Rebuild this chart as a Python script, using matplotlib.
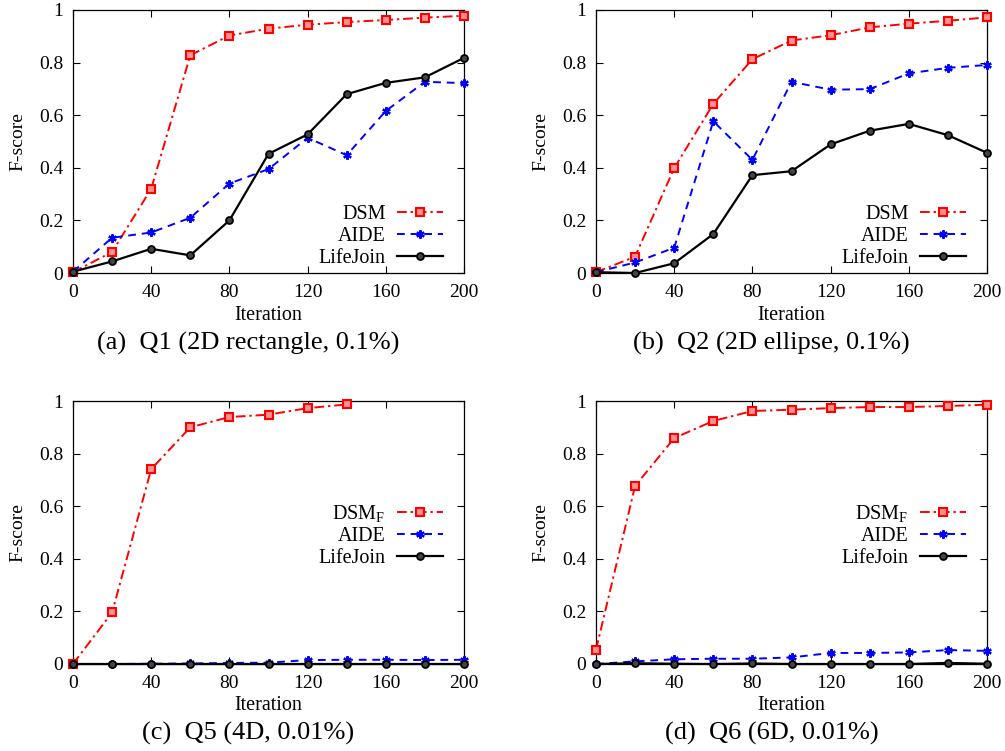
import matplotlib
matplotlib.use("Agg")
import matplotlib.pyplot as plt
from matplotlib.ticker import FuncFormatter

plt.rcParams['font.family'] = ['Liberation Serif', 'DejaVu Serif']
plt.rcParams['mathtext.fontset'] = 'custom'
plt.rcParams['mathtext.rm'] = 'Liberation Serif'
plt.rcParams['mathtext.it'] = 'Liberation Serif:italic'

iterations = [0, 20, 40, 60, 80, 100, 120, 140, 160, 180, 200]

# Panel (a) Q1
q1_dsm = [0.003, 0.08, 0.32, 0.828, 0.903, 0.929, 0.944, 0.954, 0.962, 0.971, 0.978]
q1_aide = [0.005, 0.134, 0.154, 0.21, 0.34, 0.395, 0.514, 0.448, 0.616, 0.727, 0.722]
q1_life = [0.005, 0.044, 0.092, 0.067, 0.2, 0.453, 0.527, 0.68, 0.723, 0.744, 0.818]

# Panel (b) Q2
q2_dsm = [0.003, 0.062, 0.399, 0.643, 0.813, 0.884, 0.904, 0.934, 0.948, 0.959, 0.972]
q2_aide = [0.003, 0.04, 0.096, 0.577, 0.43, 0.727, 0.697, 0.699, 0.759, 0.78, 0.791]
q2_life = [0.003, 0.0, 0.037, 0.148, 0.372, 0.387, 0.489, 0.541, 0.567, 0.524, 0.457]

# Panel (c) Q5 (DSM_F ends at 140)
q5_iter_dsm = [0, 20, 40, 60, 80, 100, 120, 140]
q5_dsm = [0.0, 0.196, 0.741, 0.9, 0.939, 0.948, 0.973, 0.987]
q5_aide = [0.0, 0.0, 0.001, 0.002, 0.004, 0.005, 0.015, 0.016, 0.016, 0.015, 0.016]
q5_life = [0.0, 0.0, 0.0, 0.0, 0.0, 0.0, 0.0, 0.0, 0.0, 0.0, 0.0]

# Panel (d) Q6
q6_dsm = [0.054, 0.677, 0.859, 0.924, 0.962, 0.967, 0.973, 0.977, 0.977, 0.981, 0.986]
q6_aide = [0.0, 0.01, 0.018, 0.02, 0.02, 0.025, 0.042, 0.042, 0.044, 0.053, 0.05]
q6_life = [0.0, 0.003, 0.001, 0.0, 0.002, 0.0, 0.0, 0.0, 0.0, 0.004, 0.001]

captions = ["(a)  Q1 (2D rectangle, 0.1%)", "(b)  Q2 (2D ellipse, 0.1%)",
            "(c)  Q5 (4D, 0.01%)", "(d)  Q6 (6D, 0.01%)"]
dsm_labels = ["DSM", "DSM", r"DSM$_\mathrm{F}$", r"DSM$_\mathrm{F}$"]

W, H = 1005, 751
fig = plt.figure(figsize=(W / 100, H / 100), dpi=100)

# axes rectangles in pixels: left, top, right, bottom
rects = [(73, 10, 464, 273), (596, 10, 987, 273),
         (73, 401, 464, 664), (596, 401, 987, 664)]
caption_pos = [(248, 343), (771, 343), (248, 733), (772, 733)]
legend_anchor_y = [0.02, 0.02, 0.366, 0.366]

panels = [
    (iterations, q1_dsm, q1_aide, q1_life),
    (iterations, q2_dsm, q2_aide, q2_life),
    (q5_iter_dsm, q5_dsm, q5_aide, q5_life),
    (iterations, q6_dsm, q6_aide, q6_life),
]

FS = 14
for i, (rect, data) in enumerate(zip(rects, panels)):
    l, t, r, b = rect
    ax = fig.add_axes([l / W, 1 - b / H, (r - l) / W, (b - t) / H])
    xd, dsm, aide, life = data
    ax.plot(xd, dsm, color='#ff0000', lw=1.4, dashes=(5, 2, 1.2, 2),
            marker='s', ms=5.5, mfc='#ff9090', mew=1.5, mec='#ff0000',
            label=dsm_labels[i], clip_on=False, zorder=3)
    ax.plot(iterations, aide, color='#0000ff', lw=1.4, dashes=(4, 3),
            marker=(6, 2, 0), ms=6, mew=1.6, mec='#0000ff',
            label="AIDE", clip_on=False, zorder=3)
    ax.plot(iterations, life, color='black', lw=1.6,
            marker='o', ms=5, mfc='#444444', mec='black', mew=1.3,
            label="LifeJoin", clip_on=False, zorder=3)
    ax.set_xlim(0, 200)
    ax.set_ylim(0, 1)
    ax.set_xticks([0, 40, 80, 120, 160, 200])
    ax.set_yticks([0, 0.2, 0.4, 0.6, 0.8, 1.0])
    ax.yaxis.set_major_formatter(FuncFormatter(lambda v, p: "%g" % v))
    ax.tick_params(direction='in', top=True, right=True, length=5, width=0.8,
                   labelsize=FS)
    ax.tick_params(axis='x', pad=8)
    ax.tick_params(axis='y', pad=7)
    for s in ax.spines.values():
        s.set_linewidth(0.9)
    ax.set_xlabel("Iteration", fontsize=14.5)
    ax.xaxis.label.set_va('center')
    ax.xaxis.set_label_coords(0.5, -42 / (b - t))
    ax.set_ylabel("F-score", fontsize=FS)
    ax.yaxis.label.set_va('center')
    ax.yaxis.set_label_coords(-55 / (r - l), 0.5)
    ax.legend(loc='lower right', bbox_to_anchor=(0.946, legend_anchor_y[i]),
              frameon=False, markerfirst=False, fontsize=14.5,
              handlelength=2.3, handletextpad=0.55, labelspacing=0.13,
              borderpad=0, borderaxespad=0)
    cx, cy = caption_pos[i]
    fig.text(cx / W, 1 - cy / H, captions[i], ha='center', va='center', fontsize=19)

fig.savefig("out.png", dpi=100)
